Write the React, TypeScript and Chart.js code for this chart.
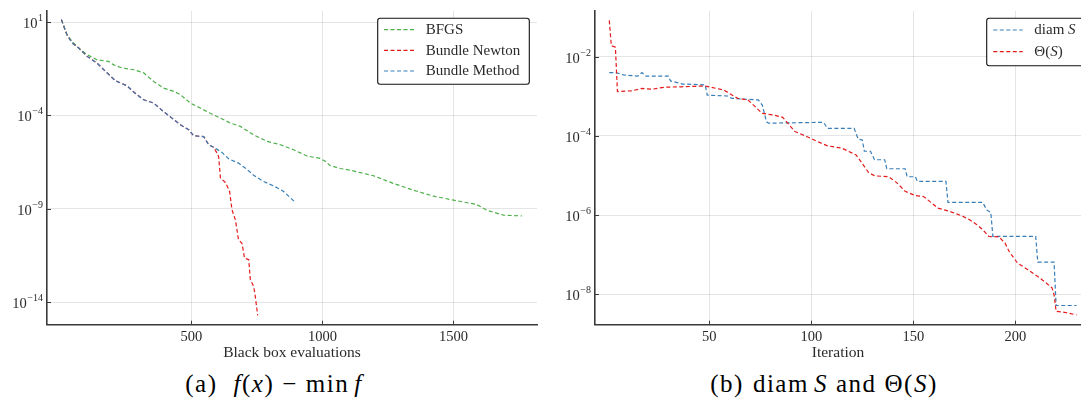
import React, { useEffect, useRef } from 'react';
import { Chart, registerables } from 'chart.js';

Chart.register(...registerables);

// ---------------- Data: left panel (f(x) - min f vs black box evaluations)
const bfgsX = [4, 25, 45, 76, 102, 140, 184, 204, 235, 280, 318, 356, 394, 433, 458, 496, 534, 572, 611, 649, 687, 738, 789, 840, 890, 941, 991, 1011, 1029, 1068, 1106, 1195, 1271, 1347, 1424, 1500, 1589, 1627, 1691, 1761];
const bfgsY = [13.5, 2.1, 0.91, 0.33, 0.18, 0.095, 0.078, 0.051, 0.035, 0.028, 0.019, 6.6e-3, 2.9e-3, 1.95e-3, 1.3e-3, 4.6e-4, 2.5e-4, 1.3e-4, 7.2e-5, 3.9e-5, 2.6e-5, 9.1e-6, 4.1e-6, 2.7e-6, 1.45e-6, 6.8e-7, 5.0e-7, 3.5e-7, 2.1e-7, 1.45e-7, 1.17e-7, 5.9e-8, 2.3e-8, 1.0e-8, 4.8e-9, 2.95e-9, 1.7e-9, 8.5e-10, 4.6e-10, 4.2e-10];

const newtonX = [4, 25, 45, 70, 102, 140, 172, 210, 254, 282, 318, 356, 394, 426, 458, 490, 509, 547, 566, 585, 598, 604, 611, 630, 646, 655, 668, 680, 693, 703, 719, 725, 738, 744, 753];
const newtonY = [13.5, 2.1, 0.76, 0.41, 0.145, 0.063, 0.023, 7.2e-3, 3.9e-3, 1.7e-3, 6.9e-4, 4.6e-4, 1.6e-4, 7.2e-5, 3.2e-5, 1.7e-5, 8.1e-6, 7.4e-6, 2.7e-6, 2.0e-6, 9.5e-7, 6.3e-7, 4.4e-8, 2.6e-8, 8.5e-9, 8.9e-10, 2.6e-10, 2.2e-11, 1.45e-11, 2.3e-12, 1.9e-12, 1.6e-13, 6.9e-14, 2.0e-14, 2.0e-15];

const bundleX = [4, 25, 45, 70, 102, 140, 172, 210, 254, 282, 318, 356, 394, 426, 458, 490, 509, 547, 566, 585, 617, 642, 680, 712, 738, 776, 814, 852, 897];
const bundleY = [13.5, 2.1, 0.76, 0.41, 0.145, 0.063, 0.023, 7.2e-3, 3.9e-3, 1.7e-3, 6.9e-4, 4.6e-4, 1.6e-4, 7.2e-5, 3.2e-5, 1.7e-5, 8.1e-6, 7.4e-6, 2.7e-6, 2.0e-6, 1.05e-6, 4.8e-7, 2.8e-7, 1.3e-7, 6.2e-8, 2.9e-8, 1.7e-8, 8.5e-9, 2.2e-9];

const leftXTicks = [500, 1000, 1500];
const leftYTickExps = [1, -4, -9, -14];

// ---------------- Data: right panel (diam S and Theta(S) vs iteration)
const diamX = [1, 4, 8, 15, 17, 19, 30, 31, 37, 48, 49, 59, 61, 74, 76, 78, 79, 106, 108, 121, 123, 125, 126, 129, 131, 136, 137, 146, 147, 151, 152, 166, 167, 184, 186, 188, 189, 210, 211, 219, 220, 230];
const diamY = [3.98e-3, 3.98e-3, 3.47e-3, 3.24e-3, 3.98e-3, 3.24e-3, 3.24e-3, 2.45e-3, 2.04e-3, 1.95e-3, 1.07e-3, 1.02e-3, 8.9e-4, 8.1e-4, 6.0e-4, 2.3e-4, 2.1e-4, 2.2e-4, 1.55e-4, 1.55e-4, 8.3e-5, 7.9e-5, 4.1e-5, 4.1e-5, 2.5e-5, 2.5e-5, 1.48e-5, 1.48e-5, 9.3e-6, 9.3e-6, 7.1e-6, 7.1e-6, 2.1e-6, 2.1e-6, 1.35e-6, 1.17e-6, 2.9e-7, 2.9e-7, 6.5e-8, 6.5e-8, 5.2e-9, 5.2e-9];

const thetaX = [1, 2, 4, 5, 12, 17, 22, 28, 36, 48, 57, 64, 69, 76, 81, 86, 92, 98, 103, 108, 115, 122, 125, 128, 131, 138, 142, 146, 151, 155, 157, 162, 168, 174, 178, 181, 184, 187, 192, 195, 197, 201, 206, 211, 215, 218, 219, 220, 224, 230];
const thetaY = [0.083, 0.019, 0.0174, 1.32e-3, 1.38e-3, 1.58e-3, 1.51e-3, 1.70e-3, 1.74e-3, 1.82e-3, 1.45e-3, 8.9e-4, 8.1e-4, 3.7e-4, 3.4e-4, 2.95e-4, 1.29e-4, 9.5e-5, 7.2e-5, 5.6e-5, 4.9e-5, 3.3e-5, 2.0e-5, 1.2e-5, 9.8e-6, 9.3e-6, 6.5e-6, 4.0e-6, 3.1e-6, 2.95e-6, 2.45e-6, 1.5e-6, 1.23e-6, 9.5e-7, 7.4e-7, 5.8e-7, 4.3e-7, 2.9e-7, 2.8e-7, 1.95e-7, 1.2e-7, 6.2e-8, 4.2e-8, 2.8e-8, 1.95e-8, 1.45e-8, 9.8e-9, 3.7e-9, 3.5e-9, 3.0e-9];

const rightXTicks = [50, 100, 150, 200];
const rightYTickExps = [-2, -4, -6, -8];

// ---------------- Text
const leftAxisTitle = 'Black box evaluations';
const rightAxisTitle = 'Iteration';
const leftLegend: Array<Array<[string, boolean]>> = [
  [['BFGS', false]],
  [['Bundle Newton', false]],
  [['Bundle Method', false]],
];
const rightLegend: Array<Array<[string, boolean]>> = [
  [['diam ', false], ['S', true]],
  [['\u0398(', false], ['S', true], [')', false]],
];

// ---------------- Styles
const SERIF = '"Liberation Serif", "DejaVu Serif", serif';
const TEXT = '#2a2a2a';
const GREEN = '#4daf4a';
const RED = '#e41a1c';
const BLUE = '#377eb8';
const DASH = [4, 2.5];
const AXIS = '#3a3a3a';
const GRID = 'rgba(0,0,0,0.10)';

const pts = (xs: number[], ys: number[]) => xs.map((x, i) => ({ x, y: ys[i] }));

function drawExpLabel(ctx: CanvasRenderingContext2D, exp: number, xRight: number, y: number) {
  const e = exp < 0 ? '\u2212' + Math.abs(exp) : String(exp);
  ctx.font = `10px ${SERIF}`;
  const ew = ctx.measureText(e).width;
  ctx.font = `14.5px ${SERIF}`;
  const bw = ctx.measureText('10').width;
  ctx.fillStyle = TEXT;
  ctx.textBaseline = 'middle';
  ctx.textAlign = 'left';
  ctx.fillText('10', xRight - ew - bw - 0.5, y + 1.5);
  ctx.font = `10px ${SERIF}`;
  ctx.fillText(e, xRight - ew, y - 4.5);
}

function roundRect(ctx: CanvasRenderingContext2D, x: number, y: number, w: number, h: number, r: number) {
  ctx.beginPath();
  ctx.moveTo(x + r, y);
  ctx.lineTo(x + w - r, y);
  ctx.arcTo(x + w, y, x + w, y + r, r);
  ctx.lineTo(x + w, y + h - r);
  ctx.arcTo(x + w, y + h, x + w - r, y + h, r);
  ctx.lineTo(x + r, y + h);
  ctx.arcTo(x, y + h, x, y + h - r, r);
  ctx.lineTo(x, y + r);
  ctx.arcTo(x, y, x + r, y, r);
  ctx.closePath();
}

type LegendSpec = {
  box: [number, number, number, number];
  rows: number[];
  sample: [number, number];
  textX: number;
  labels: Array<Array<[string, boolean]>>;
};

function makePlugin(exps: number[], legend: LegendSpec) {
  return {
    id: 'decor',
    afterDraw(chart: any) {
      const ctx: CanvasRenderingContext2D = chart.ctx;
      const area = chart.chartArea;
      const xs = chart.scales.x;
      const ys = chart.scales.y;
      ctx.save();
      // inward tick marks
      ctx.strokeStyle = AXIS;
      ctx.lineWidth = 1;
      ctx.setLineDash([]);
      xs.ticks.forEach((t: any) => {
        const px = Math.round(xs.getPixelForValue(t.value)) + 0.5;
        ctx.beginPath();
        ctx.moveTo(px, area.bottom);
        ctx.lineTo(px, area.bottom - 4);
        ctx.stroke();
      });
      exps.forEach((e) => {
        const py = Math.round(ys.getPixelForValue(Math.pow(10, e))) + 0.5;
        ctx.beginPath();
        ctx.moveTo(area.left, py);
        ctx.lineTo(area.left + 4, py);
        ctx.stroke();
        drawExpLabel(ctx, e, area.left - 4, py);
      });
      // legend
      const [bx, by, bw, bh] = legend.box;
      roundRect(ctx, bx, by, bw, bh, 2.5);
      ctx.fillStyle = '#ffffff';
      ctx.fill();
      ctx.strokeStyle = '#111';
      ctx.lineWidth = 1.1;
      ctx.stroke();
      chart.data.datasets.forEach((ds: any, i: number) => {
        const y = legend.rows[i];
        ctx.strokeStyle = ds.borderColor;
        ctx.lineWidth = 1.2;
        ctx.setLineDash(DASH);
        ctx.beginPath();
        ctx.moveTo(legend.sample[0], y);
        ctx.lineTo(legend.sample[1], y);
        ctx.stroke();
        ctx.setLineDash([]);
        let tx = legend.textX;
        ctx.fillStyle = TEXT;
        ctx.textBaseline = 'middle';
        ctx.textAlign = 'left';
        legend.labels[i].forEach(([s, it]) => {
          ctx.font = `${it ? 'italic ' : ''}15px ${SERIF}`;
          ctx.fillText(s, tx, y + 0.5);
          tx += ctx.measureText(s).width;
        });
      });
      ctx.restore();
    },
  };
}

function baseScales(xMin: number, xMax: number, xTicks: number[], yMin: number, yMax: number, exps: number[], yWidth: number, title: string) {
  return {
    x: {
      type: 'linear',
      min: xMin,
      max: xMax,
      afterBuildTicks: (s: any) => {
        s.ticks = xTicks.map((v) => ({ value: v }));
      },
      afterFit: (s: any) => {
        s.height = 40.3;
      },
      grid: { color: GRID, lineWidth: 1, drawTicks: false },
      border: { color: AXIS, width: 1.6 },
      ticks: {
        font: { family: SERIF, size: 14.5 },
        color: TEXT,
        padding: 4,
        maxRotation: 0,
        autoSkip: false,
        callback: (v: any) => String(v),
      },
      title: {
        display: true,
        text: title,
        font: { family: SERIF, size: 15.5 },
        color: TEXT,
        padding: { top: 0, bottom: 3 },
      },
    },
    y: {
      type: 'logarithmic',
      min: yMin,
      max: yMax,
      afterBuildTicks: (s: any) => {
        s.ticks = exps.map((e) => ({ value: Math.pow(10, e) }));
      },
      afterFit: (s: any) => {
        s.width = yWidth;
      },
      grid: { color: GRID, lineWidth: 1, drawTicks: false },
      border: { color: AXIS, width: 1.6 },
      ticks: { display: false },
    },
  };
}

function lineDs(label: string, xs: number[], ys: number[], color: string, order: number) {
  return {
    label,
    data: pts(xs, ys),
    borderColor: color,
    backgroundColor: color,
    borderWidth: 1.2,
    borderDash: DASH,
    pointRadius: 0,
    tension: 0,
    fill: false,
    order,
  };
}

function LeftChart() {
  const ref = useRef<HTMLCanvasElement>(null);
  useEffect(() => {
    const chart = new Chart(ref.current as HTMLCanvasElement, {
      type: 'line',
      data: {
        datasets: [
          lineDs('BFGS', bfgsX, bfgsY, GREEN, 2),
          lineDs('Bundle Newton', newtonX, newtonY, RED, 1),
          lineDs('Bundle Method', bundleX, bundleY, BLUE, 0),
        ],
      },
      options: {
        responsive: false,
        animation: false,
        devicePixelRatio: 1,
        layout: { padding: { top: 11, right: 8, left: 0, bottom: 0 } },
        plugins: { legend: { display: false }, tooltip: { enabled: false } },
        scales: baseScales(-51, 1819, leftXTicks, 6.3e-16, 3.9e1, leftYTickExps, 47, leftAxisTitle) as any,
      },
      plugins: [
        makePlugin(leftYTickExps, {
          box: [377.7, 18.3, 151.6, 66],
          rows: [29.7, 50.3, 71],
          sample: [384, 414],
          textX: 425.7,
          labels: leftLegend,
        }),
      ],
    } as any);
    return () => chart.destroy();
  }, []);
  return <canvas ref={ref} width={545} height={365} style={{ width: 545, height: 365, display: 'block' }} />;
}

function RightChart() {
  const ref = useRef<HTMLCanvasElement>(null);
  useEffect(() => {
    const chart = new Chart(ref.current as HTMLCanvasElement, {
      type: 'line',
      data: {
        datasets: [
          lineDs('diam S', diamX, diamY, BLUE, 1),
          lineDs('\u0398(S)', thetaX, thetaY, RED, 0),
        ],
      },
      options: {
        responsive: false,
        animation: false,
        devicePixelRatio: 1,
        layout: { padding: { top: 11, right: 0, left: 0, bottom: 0 } },
        plugins: { legend: { display: false }, tooltip: { enabled: false } },
        scales: baseScales(-6, 232.2, rightXTicks, 1.7e-9, 1.43e-1, rightYTickExps, 50, rightAxisTitle) as any,
      },
      plugins: [
        makePlugin(rightYTickExps, {
          box: [441.7, 18.3, 130, 47.4],
          rows: [30, 51.7],
          sample: [448.3, 477.7],
          textX: 489.3,
          labels: rightLegend,
        }),
      ],
    } as any);
    return () => chart.destroy();
  }, []);
  return <canvas ref={ref} width={536} height={365} style={{ width: 536, height: 365, display: 'block' }} />;
}

const captionStyle: React.CSSProperties = {
  position: 'absolute',
  top: 370,
  width: 440,
  textAlign: 'center',
  fontFamily: SERIF,
  fontSize: 25,
  letterSpacing: '1.5px',
  lineHeight: '28px',
  color: '#000',
  whiteSpace: 'nowrap',
};

const gap = (w: number) => <span style={{ display: 'inline-block', width: w }} />;

export default function App() {
  return (
    <div style={{ position: 'absolute', left: 0, top: 0, width: 1081, height: 402, background: '#fff', overflow: 'hidden' }}>
      <div style={{ position: 'absolute', left: 0, top: 0 }}>
        <LeftChart />
      </div>
      <div style={{ position: 'absolute', left: 545, top: 0 }}>
        <RightChart />
      </div>
      <div style={{ ...captionStyle, left: 274 - 220 }}>
        (a){gap(16)}<i>f</i>(<i>x</i>){gap(8)}−{gap(8)}min{gap(5)}<i>f</i>
      </div>
      <div style={{ ...captionStyle, left: 824 - 220 }}>
        (b){gap(9)}diam{gap(5)}<i>S</i>{gap(8)}and{gap(8)}Θ(<i>S</i>)
      </div>
    </div>
  );
}
